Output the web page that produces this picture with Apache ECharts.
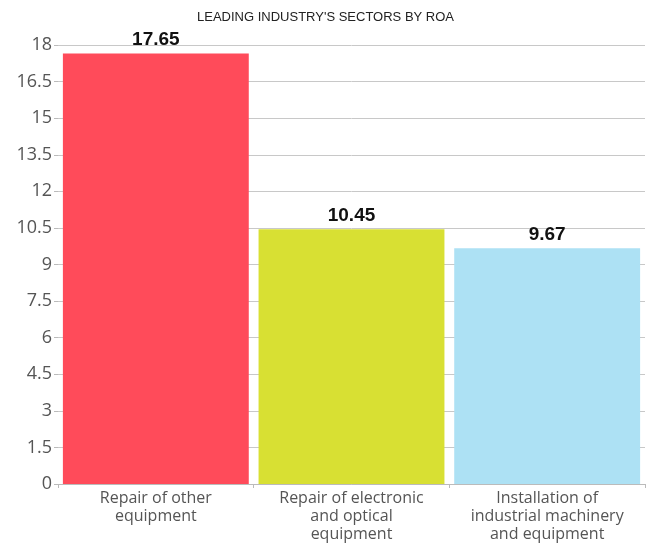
<!DOCTYPE html>
<html>
<head>
<meta charset="utf-8">
<script src="https://cdn.jsdelivr.net/npm/echarts@6/dist/echarts.min.js"></script>
<style>
  html, body { margin: 0; padding: 0; background: #fff; }
  #main { width: 651px; height: 545px; }
</style>
</head>
<body>
<div id="main"></div>
<script>
var categories = ['Repair of other\nequipment', 'Repair of electronic\nand optical\nequipment', 'Installation of\nindustrial machinery\nand equipment'];
var roaValues = [17.65, 10.45, 9.67];
var barColors = ['#FF4B5A', '#D8E033', '#ADE1F4'];
var yTicks = { min: 0, max: 18, interval: 1.5 };

var chart = echarts.init(document.getElementById('main'));

var option = {
  animation: false,
  title: {
    text: "LEADING INDUSTRY'S SECTORS BY ROA",
    left: 'center',
    top: 6,
    textStyle: { fontFamily: 'Liberation Sans Narrow, Arial Narrow, sans-serif', fontSize: 13, fontWeight: 'normal', color: '#222' }
  },
  grid: { left: 58, right: 6, top: 45, bottom: 61 },
  xAxis: {
    type: 'category',
    data: categories,
    axisLine: { lineStyle: { color: '#bbb' } },
    axisTick: { show: true, lineStyle: { color: '#bbb' }, length: 4 },
    axisLabel: { interval: 0, hideOverlap: false, color: '#555', fontSize: 16, lineHeight: 18, margin: 5, fontFamily: 'Open Sans, sans-serif' }
  },
  yAxis: {
    type: 'value',
    min: yTicks.min,
    max: yTicks.max,
    interval: yTicks.interval,
    axisLine: { show: false },
    axisTick: { show: true, length: 4, lineStyle: { color: '#bbb' } },
    splitLine: { lineStyle: { color: '#c8c8c8' } },
    axisLabel: { color: '#555', fontSize: 18, margin: 6, fontFamily: 'Open Sans, sans-serif' }
  },
  series: [{
    type: 'bar',
    barCategoryGap: '5%',
    data: roaValues.map(function (v, i) {
      return { value: v, itemStyle: { color: barColors[i] } };
    }),
    label: {
      show: true,
      position: 'top',
      distance: 4,
      color: '#111',
      fontSize: 19,
      fontWeight: 'bold',
      fontFamily: 'Liberation Sans Narrow, Arial Narrow, sans-serif',
      formatter: function (p) { return p.value.toFixed(2); }
    }
  }]
};

chart.setOption(option);
</script>
</body>
</html>
